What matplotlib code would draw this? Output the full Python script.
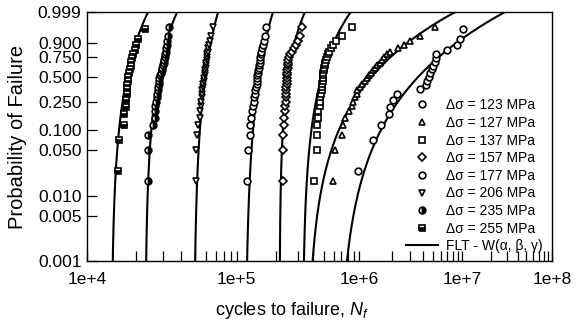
import numpy as np
import matplotlib
matplotlib.use('Agg')
import matplotlib.pyplot as plt

plt.rcParams['font.family'] = ['Liberation Sans', 'DejaVu Sans']
plt.rcParams['mathtext.fontset'] = 'custom'
plt.rcParams['mathtext.rm'] = 'Liberation Sans'
plt.rcParams['mathtext.it'] = 'Liberation Sans:italic'

# ---------------- data ----------------
stress_levels = [123, 127, 137, 157, 177, 206, 235, 255]   # MPa

# plotting positions (probability of failure) by rank
prob_n30 = [0.017, 0.050, 0.083, 0.117, 0.150, 0.183, 0.217, 0.250, 0.283, 0.317,
            0.350, 0.383, 0.417, 0.450, 0.483, 0.517, 0.550, 0.583, 0.617, 0.650,
            0.683, 0.717, 0.750, 0.783, 0.817, 0.850, 0.883, 0.917, 0.950, 0.983]
prob_n21 = [0.024, 0.071, 0.119, 0.167, 0.214, 0.262, 0.310, 0.357, 0.405, 0.452,
            0.500, 0.548, 0.595, 0.643, 0.690, 0.738, 0.786, 0.833, 0.881, 0.929, 0.976]

# log10 of cycles to failure, sorted
log10_cycles_123 = [5.993, 6.129, 6.197, 6.276, 6.283, 6.314, 6.349, 6.573, 6.629, 6.644,
                    6.659, 6.669, 6.686, 6.702, 6.719, 6.729, 6.734, 6.837, 6.948, 6.974, 7.002]
log10_cycles_127 = [5.774, 5.789, 5.847, 5.858, 5.880, 5.911, 5.935, 5.949, 5.964, 5.982,
                    5.986, 6.008, 6.026, 6.053, 6.071, 6.089, 6.108, 6.126, 6.144, 6.162,
                    6.190, 6.209, 6.227, 6.252, 6.283, 6.359, 6.416, 6.473, 6.570, 6.719]
log10_cycles_137 = [5.610, 5.633, 5.634, 5.638, 5.646, 5.648, 5.661, 5.661, 5.665, 5.671,
                    5.675, 5.677, 5.680, 5.683, 5.686, 5.688, 5.690, 5.694, 5.697, 5.703,
                    5.707, 5.715, 5.724, 5.732, 5.741, 5.753, 5.773, 5.796, 5.847, 5.935]
log10_cycles_157 = [5.360, 5.360, 5.361, 5.364, 5.369, 5.373, 5.376, 5.379, 5.381, 5.383,
                    5.385, 5.385, 5.386, 5.387, 5.388, 5.389, 5.392, 5.393, 5.395, 5.397,
                    5.398, 5.401, 5.409, 5.417, 5.430, 5.446, 5.462, 5.479, 5.494, 5.511]
log10_cycles_177 = [5.075, 5.087, 5.099, 5.100, 5.107, 5.118, 5.126, 5.130, 5.134, 5.138,
                    5.142, 5.146, 5.151, 5.153, 5.155, 5.157, 5.160, 5.164, 5.167, 5.170,
                    5.174, 5.176, 5.179, 5.182, 5.187, 5.193, 5.200, 5.208, 5.215, 5.221]
log10_cycles_206 = [4.703, 4.706, 4.712, 4.722, 4.733, 4.736, 4.740, 4.743, 4.746, 4.749,
                    4.751, 4.754, 4.758, 4.760, 4.763, 4.766, 4.769, 4.772, 4.774, 4.777,
                    4.779, 4.781, 4.783, 4.786, 4.789, 4.792, 4.797, 4.802, 4.810, 4.824]
log10_cycles_235 = [4.382, 4.383, 4.384, 4.412, 4.427, 4.428, 4.430, 4.435, 4.439, 4.443,
                    4.446, 4.448, 4.450, 4.453, 4.456, 4.461, 4.466, 4.472, 4.476, 4.480,
                    4.484, 4.487, 4.491, 4.495, 4.500, 4.503, 4.506, 4.509, 4.515, 4.521]
log10_cycles_255 = [4.190, 4.196, 4.226, 4.229, 4.238, 4.241, 4.243, 4.244, 4.245, 4.252,
                    4.254, 4.258, 4.263, 4.268, 4.274, 4.280, 4.286, 4.296, 4.306, 4.318, 4.360]

# fitted Weibull (in log10 N) parameters per stress level: location gamma, scale alpha, shape beta
weib_gamma = [5.8179, 5.5559, 5.5165, 5.3297, 5.0644, 4.6910, 4.3626, 4.1485]
weib_alpha = [0.8366, 0.6441, 0.1841, 0.0797, 0.1172, 0.0896, 0.0981, 0.1114]
weib_beta = [2.87, 2.56, 2.42, 2.04, 3.23, 2.96, 2.50, 2.62]

x_major = [1e4, 1e5, 1e6, 1e7, 1e8]
x_major_labels = ['1e+4', '1e+5', '1e+6', '1e+7', '1e+8']
y_ticks = [0.001, 0.005, 0.010, 0.050, 0.100, 0.250, 0.500, 0.750, 0.900, 0.999]
y_tick_labels = ['0.001', '0.005', '0.010', '0.050', '0.100', '0.250', '0.500', '0.750', '0.900', '0.999']

series = [
    (log10_cycles_123, prob_n21, dict(marker='o', fillstyle='full', markerfacecolor='white')),
    (log10_cycles_127, prob_n30, dict(marker='^', fillstyle='full', markerfacecolor='white')),
    (log10_cycles_137, prob_n30, dict(marker='s', fillstyle='full', markerfacecolor='white')),
    (log10_cycles_157, prob_n30, dict(marker='D', fillstyle='full', markerfacecolor='white', markersize=4.3)),
    (log10_cycles_177, prob_n30, dict(marker='o', fillstyle='full', markerfacecolor='white')),
    (log10_cycles_206, prob_n30, dict(marker='v', fillstyle='full', markerfacecolor='white')),
    (log10_cycles_235, prob_n30, dict(marker='o', fillstyle='right', markerfacecolor='black', markerfacecoloralt='white')),
    (log10_cycles_255, prob_n21, dict(marker='s', fillstyle='bottom', markerfacecolor='black', markerfacecoloralt='white')),
]

# ---------------- scales ----------------
def fwd_x(n):
    n = np.asarray(n, dtype=float)
    with np.errstate(all='ignore'):
        return np.log10(np.log10(np.clip(n, 10.0001, None)))

def inv_x(v):
    v = np.clip(np.asarray(v, dtype=float), -1.0, 1.3)
    with np.errstate(all='ignore'):
        return 10.0 ** (10.0 ** v)

def fwd_y(p):
    p = np.clip(np.asarray(p, dtype=float), 1e-12, 1 - 1e-12)
    return np.log(-np.log(1 - p))

def inv_y(u):
    u = np.clip(np.asarray(u, dtype=float), -30, 3.5)
    return 1 - np.exp(-np.exp(u))

fig = plt.figure(figsize=(5.8, 3.25), dpi=100)
ax = fig.add_axes([87 / 580, 64 / 325, 465 / 580, 249 / 325])
ax.set_xscale('function', functions=(fwd_x, inv_x))
ax.set_yscale('function', functions=(fwd_y, inv_y))

# model curves
u = np.linspace(-9.5, 2.4, 500)
w = np.exp(u)
p_curve = 1 - np.exp(-w)
curve_handle = None
for g, a, b in zip(weib_gamma, weib_alpha, weib_beta):
    n_curve = 10.0 ** (g + a * w ** (1.0 / b))
    h, = ax.plot(n_curve, p_curve, color='black', lw=1.5, zorder=2)
    curve_handle = h

handles = []
for (logs, probs, style), s in zip(series, stress_levels):
    kw = dict(linestyle='none', markeredgecolor='black', markersize=4.8, markeredgewidth=1.2)
    kw.update(style)
    h, = ax.plot(10.0 ** np.array(logs), probs, zorder=3, **kw)
    handles.append((h, f'Δσ = {s} MPa'))

ax.set_xlim(1e4, 1e8)
ax.set_ylim(0.001, 0.999)

ax.set_xticks(x_major)
ax.set_xticklabels(x_major_labels)
minor = [k * 10.0 ** e for e in range(4, 8) for k in range(2, 10)]
ax.set_xticks(minor, minor=True)
ax.set_yticks(y_ticks)
ax.set_yticklabels(y_tick_labels)
ax.yaxis.set_minor_locator(matplotlib.ticker.NullLocator())

ax.tick_params(axis='both', which='both', direction='in', length=7.2, width=0.9,
               top=False, right=False, labelsize=12.5)
ax.tick_params(axis='x', which='major', pad=8)
ax.tick_params(axis='y', which='major', pad=4)
for sp in ax.spines.values():
    sp.set_linewidth(1.0)

ax.set_ylabel('Probability of Failure', fontsize=14.5)
ax.yaxis.set_label_coords(-0.128, 0.5)
ax.set_xlabel('cycles to failure, $N_f$', fontsize=13)
ax.xaxis.set_label_coords((292 - 87) / 465, -0.155)

leg_handles = [h for h, _ in handles] + [curve_handle]
leg_labels = [l for _, l in handles] + ['FLT - W(α, β, γ)']
ax.legend(leg_handles, leg_labels, loc='lower right', bbox_to_anchor=(0.985, 0.02),
          frameon=False, fontsize=10, handlelength=2.3, handletextpad=0.55,
          labelspacing=0.26, borderaxespad=0, borderpad=0.2)

fig.savefig('out.png', dpi=100)
